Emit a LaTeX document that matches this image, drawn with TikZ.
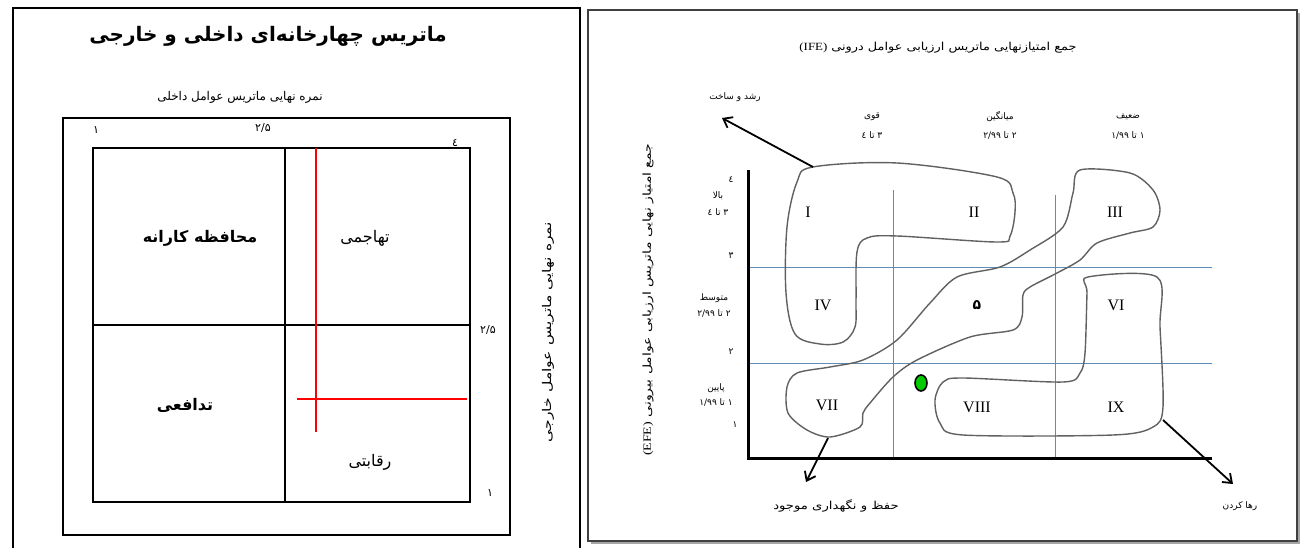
\documentclass[tikz,border=0pt]{standalone}
\usepackage{fontspec}
\setmainfont{Liberation Serif}
\newfontfamily\fa[Script=Arabic]{DejaVu Sans}
\usetikzlibrary{arrows.meta}
\TeXXeTstate=1
\definecolor{gridblue}{RGB}{95,140,180}
\begin{document}
\begin{tikzpicture}[x=1pt,y=-1pt,
  fr/.style={line width=2.4pt,black},
  boxl/.style={draw=black,line width=1.2pt},
  redl/.style={draw=red,line width=1.6pt},
  gridl/.style={draw=gridblue,line width=0.9pt},
  axl/.style={line width=3pt,black},
  blob/.style={draw=black!62,line width=1.4pt},
  arr/.style={line width=1.8pt,-{Straight Barb[length=8pt,width=12pt]}},
  big/.style={font=\fa\bfseries\fontsize{20}{24}\selectfont,inner sep=0pt},
  mid/.style={font=\fa\fontsize{12}{14}\selectfont,inner sep=0pt},
  quad/.style={font=\fa\fontsize{16}{18}\selectfont,inner sep=0pt},
  quadb/.style={font=\fa\bfseries\fontsize{16}{18}\selectfont,inner sep=0pt},
  num/.style={font=\fa\fontsize{11}{13}\selectfont,inner sep=0pt},
  small/.style={font=\fa\fontsize{9}{11}\selectfont,inner sep=0pt},
  medium/.style={font=\fa\fontsize{11}{13}\selectfont,inner sep=0pt},
  rn/.style={font=\fontsize{16}{18}\selectfont,inner sep=0pt}]
\useasboundingbox (0,0) rectangle (1300,548);
\fill[white] (0,0) rectangle (1300,548);
% ---------------- left panel ----------------
\draw[fr] (13,552) -- (13,8) -- (580,8) -- (580,552);
\node[big] (ttl) at (268,36) {\beginR ماتریس چهارخانه‌ای داخلی و خارجی\endR};
\node[mid] (sub) at (240,97) {\beginR نمره نهایی ماتریس عوامل داخلی\endR};
\draw[boxl] (63,118) rectangle (510,535);
\draw[boxl] (93,148) rectangle (470,502);
\draw[boxl] (285,148) -- (285,502);
\draw[boxl] (93,325) -- (470,325);
\draw[redl] (316,148) -- (316,432);
\draw[redl] (297,399) -- (467,399);
\node[num] (t1) at (96,130) {۱};
\node[num] (t25) at (263,128) {۲/۵};
\node[num] (t4) at (455,143) {٤};
\node[num] (r25) at (488,330) {۲/۵};
\node[num] (r1) at (490,493) {۱};
\node[quadb] (q1) at (200,238) {\beginR محافظه کارانه\endR};
\node[quad] (q2) at (365,238) {تهاجمی};
\node[quadb] (q3) at (185,405) {تدافعی};
\node[quad] (q4) at (370,462) {رقابتی};
\node[mid,rotate=90] (vl) at (548,332) {\scalebox{1.3}[1]{\beginR نمره نهایی ماتریس عوامل خارجی\endR}};
% ---------------- right panel ----------------
\draw[black!35,line width=2pt] (591,543) -- (1299,543) -- (1299,13);
\draw[black!75,line width=1.2pt] (588,10) rectangle (1297,541);
\node[medium] (rt) at (938,48) {\scalebox{1.17}[1]{{\fontsize{11}{13}\selectfont\rmfamily (IFE)}\ \beginR جمع امتیازنهایی ماتریس ارزیابی عوامل درونی\endR}};
\node[small] (grow) at (735,97) {\beginR رشد و ساخت\endR};
\node[small] (c1a) at (872,117) {قوی};
\node[small] (c1b) at (872,135) {\beginR ۳ تا ٤\endR};
\node[small] (c2a) at (1000,117) {میانگین};
\node[small] (c2b) at (1000,135) {\beginR ۲ تا \beginL۲/۹۹\endL\endR};
\node[small] (c3a) at (1128,117) {ضعیف};
\node[small] (c3b) at (1128,135) {\beginR ۱ تا \beginL۱/۹۹\endL\endR};
\node[small] (y4) at (731,180) {٤};
\node[small] (r1a) at (718,196) {بالا};
\node[small] (r1b) at (718,212) {\beginR ۳ تا ٤\endR};
\node[small] (y3) at (731,256) {۳};
\node[small] (r2a) at (714,298) {متوسط};
\node[small] (r2b) at (714,313) {\beginR ۲ تا \beginL۲/۹۹\endL\endR};
\node[small] (y2) at (731,352) {۲};
\node[small] (r3a) at (716,388) {پایین};
\node[small] (r3b) at (716,402) {\beginR ۱ تا \beginL۱/۹۹\endL\endR};
\node[small] (y1) at (735,425) {۱};
\node[medium,rotate=90] (efe) at (648,300) {\scalebox{1.27}[1]{{\rmfamily\fontsize{11}{13}\selectfont (EFE)} \beginR جمع امتیاز نهایی ماتریس ارزیابی عوامل بیرونی\endR}};
% grid
\draw[gridl] (748,267) -- (1212,267);
\draw[gridl] (748,363) -- (1212,363);
\draw[gridl] (893,190) -- (893,458);
\draw[gridl] (1055,195) -- (1055,458);
\draw[axl] (748,170) -- (748,458) -- (1212,458);
% blobs
\draw[blob] plot[smooth cycle,tension=0.55] coordinates {
 (813,167) (897,163) (997,177) (1013,193) (1015,212) (1010,236) (997,242)
 (897,236) (867,238) (857,252) (856,300) (855,327) (843,342) (820,344) (795,334)
 (786,293) (787,227) (797,182)};
\draw[blob] plot[smooth cycle,tension=0.5] coordinates {
 (1080,170) (1130,173) (1153,190) (1160,210) (1153,227) (1130,233) (1097,243)
 (1080,260) (1057,273) (1030,287) (1023,295) (1022,317) (1013,330) (970,337)
 (917,360) (893,377) (870,403) (863,413) (860,427) (830,437) (807,430) (788,413)
 (787,387) (797,373) (830,367) (863,360) (897,340) (930,303) (957,277) (1000,267)
 (1030,250) (1063,227) (1073,193)};
\draw[blob] plot[smooth cycle,tension=0.5] coordinates {
 (1088,277) (1157,277) (1160,327) (1163,407) (1153,427) (1113,435) (963,435)
 (940,423) (935,400) (943,382) (963,378) (1063,382) (1080,373) (1085,353) (1087,293)};
\node[rn] (nI) at (808,212) {I};
\node[rn] (nII) at (974,212) {II};
\node[rn] (nIII) at (1115,212) {III};
\node[rn] (nIV) at (823,305) {IV};
\node[small,font=\fa\bfseries\fontsize{14}{16}\selectfont] (nV) at (977,305) {۵};
\node[rn] (nVI) at (1116,305) {VI};
\node[rn] (nVII) at (827,405) {VII};
\node[rn] (nVIII) at (977,407) {VIII};
\node[rn] (nIX) at (1116,407) {IX};
\draw[black,line width=1.6pt,fill=green!80!black] (921,383) ellipse [x radius=6,y radius=8];
\coordinate (a1s) at (813,167); \coordinate (a1e) at (722,118);
\coordinate (a2s) at (828,438); \coordinate (a2e) at (806,482);
\coordinate (a3s) at (1163,420); \coordinate (a3e) at (1233,484);
\draw[arr] (a1s) -- (a1e);
\draw[arr] (a2s) -- (a2e);
\draw[arr] (a3s) -- (a3e);
\node[medium] (keep) at (836,506) {\scalebox{1.2}[1]{\beginR حفظ و نگهداری موجود\endR}};
\node[small] (drop) at (1240,506) {\beginR رها کردن\endR};
\end{tikzpicture}
\end{document}
